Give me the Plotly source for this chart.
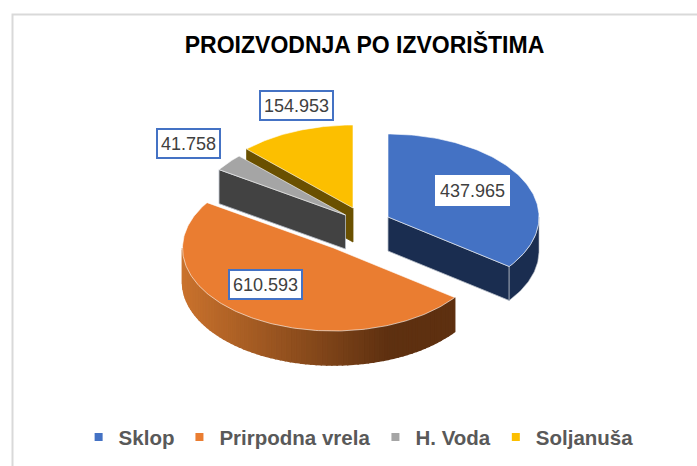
import math
import plotly.graph_objects as go

# --- data ---
sources = ["Sklop", "Prirpodna vrela", "H. Voda", "Soljanuša"]
production = [437965, 610593, 41758, 154953]
value_labels = ["437.965", "610.593", "41.758", "154.953"]
top_colors = ["#4472c4", "#ea7d31", "#a5a5a5", "#fcbf00"]
side_colors = ["#1a2d50", "#5e3010", "#424242", "#6a5000"]
title_text = "PROIZVODNJA PO IZVORIŠTIMA"

# --- drawing geometry (pixel-scale axes) ---
W, H = 697, 466
RX, RY, DEPTH = 151, 83, 34
slice_centres = [(388, 217), (333.5, 248), (345.5, 215), (353, 208)]
label_centres = [(472, 190), (265, 284), (188, 143), (296, 105)]
label_borders = ["#ffffff", "#4472c4", "#4472c4", "#4472c4"]
GRAD_LEFT, GRAD_RIGHT = (201, 114, 45), (94, 48, 16)

total = sum(production)
angles = [0.0]
for v in production:
    angles.append(angles[-1] + 360.0 * v / total)


def pt(c, deg, dy=0.0):
    t = math.radians(deg)
    return c[0] + RX * math.sin(t), c[1] - RY * math.cos(t) + dy


def arc(c, a0, a1, dy=0.0, step=1.0):
    n = max(2, int(abs(a1 - a0) / step) + 1)
    return [pt(c, a0 + (a1 - a0) * i / (n - 1), dy) for i in range(n)]


def poly(points, fill, line=None, width=1.0):
    xs = [p[0] for p in points] + [points[0][0]]
    ys = [p[1] for p in points] + [points[0][1]]
    return go.Scatter(
        x=xs, y=ys, mode="lines", fill="toself", fillcolor=fill,
        line=dict(color=line or fill, width=width),
        hoverinfo="skip", showlegend=False,
    )


fig = go.Figure()
# painter's order: back slices first, orange in front
for i in [3, 2, 0, 1]:
    c = slice_centres[i]
    a0, a1 = angles[i], angles[i + 1]
    if i == 1:
        # rim with horizontal shading
        d = 2.0
        a = a0
        while a < min(a1, 270.0) - 1e-6:
            b = min(a + d, 270.0)
            mx = pt(c, (a + b) / 2)[0]
            t = min(1.0, max(0.0, (mx - (c[0] - RX)) / 205.0))
            col = tuple(round(GRAD_LEFT[k] + (GRAD_RIGHT[k] - GRAD_LEFT[k]) * t) for k in range(3))
            fig.add_trace(poly(arc(c, a, b, 0, 0.5) + arc(c, b, a, DEPTH, 0.5), "rgb(%d,%d,%d)" % col, width=1.5))
            a = b
    else:
        # visible cut face, from the slice's left edge to its centre
        edge = a0 if i in (2, 3) else a1
        e = pt(c, edge)
        fig.add_trace(poly([c, e, (e[0], e[1] + DEPTH), (c[0], c[1] + DEPTH)], side_colors[i],
                           "#b8bec8" if i != 3 else side_colors[i], 0.8))
        if i == 0:
            fig.add_trace(poly(arc(c, 90, a1) + arc(c, a1, 90, DEPTH), side_colors[i], "#b8bec8", 0.6))
    # top face
    fig.add_trace(poly([c] + arc(c, a0, a1), top_colors[i], "rgba(255,255,255,0.75)", 0.8))

# legend entries
for name, col in zip(sources, top_colors):
    fig.add_trace(go.Scatter(x=[None], y=[None], mode="markers", name=name,
                             marker=dict(symbol="square", size=8, color=col)))

for lab, (x, y), bc in zip(value_labels, label_centres, label_borders):
    fig.add_annotation(x=x, y=y, text=lab, showarrow=False, bgcolor="#ffffff",
                       bordercolor=bc, borderwidth=2, borderpad=3, height=21, valign="middle",
                       font=dict(family="Liberation Sans", size=18, color="#404040"))

fig.add_shape(type="path", path=f"M 12.5 {H+5} L 12.5 14.5 L {W+5} 14.5",
              line=dict(color="#d9d9d9", width=2), layer="below")

fig.update_layout(
    width=W, height=H, margin=dict(l=0, r=0, t=0, b=0),
    paper_bgcolor="#ffffff", plot_bgcolor="#ffffff",
    title=dict(text=f"<b>{title_text}</b>", x=0.523, xanchor="center", y=0.903, yanchor="middle",
               font=dict(family="Liberation Sans", size=23, color="#000000")),
    xaxis=dict(range=[0, W], visible=False, fixedrange=True),
    yaxis=dict(range=[H, 0], visible=False, fixedrange=True),
    legend=dict(orientation="h", x=0.1128, xanchor="left", y=0.062, yanchor="middle",
                font=dict(family="Liberation Sans", size=20.5, color="#595959", weight="bold"),
                bgcolor="rgba(0,0,0,0)", itemclick=False, itemdoubleclick=False),
)
fig.write_html("out.html", config={"displayModeBar": False},
               post_script="document.body.style.margin='0';document.body.style.overflow='hidden';")
